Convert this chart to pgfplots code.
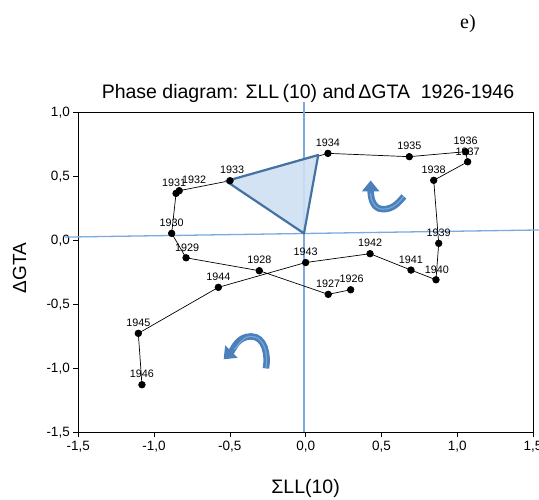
\documentclass[border=0pt]{standalone}
\usepackage{fontspec}
\setmainfont{Liberation Sans}
\newfontfamily\seriffont{Liberation Serif}
\usepackage{pgfplots}
\pgfplotsset{compat=1.18}
\usepackage{pgfplotstable}
\usetikzlibrary{arrows.meta}

\definecolor{refline}{RGB}{122,170,222}
\definecolor{triedge}{RGB}{68,114,162}
\definecolor{trifill}{RGB}{206,224,242}
\definecolor{arrowblue}{RGB}{76,128,186}
\definecolor{arrowlight}{RGB}{120,165,215}

\pgfplotstableread{
x y year dx
0.297 -0.385 1926 1
0.149 -0.421 1927 0
-0.306 -0.236 1928 0
-0.789 -0.135 1929 1
-0.884 0.056 1930 0
-0.855 0.369 1931 -2
-0.834 0.390 1932 15
-0.499 0.468 1933 2
0.147 0.682 1934 0
0.684 0.656 1935 0
1.056 0.695 1936 0
1.069 0.616 1937 0
0.845 0.471 1938 0
0.878 -0.022 1939 0
0.860 -0.307 1940 1
0.695 -0.231 1941 0
0.425 -0.103 1942 0
0.000 -0.172 1943 0
-0.576 -0.366 1944 0
-1.104 -0.726 1945 0
-1.080 -1.128 1946 0
}\phasedata

\begin{document}
\begin{tikzpicture}
\useasboundingbox (0pt,0pt) rectangle (539pt,499pt);
\begin{axis}[
  at={(78.3pt,66.7pt)}, anchor=south west,
  scale only axis, width=454.7pt, height=319.6pt,
  xmin=-1.5, xmax=1.5, ymin=-1.5, ymax=1,
  xtick={-1.5,-1,-0.5,0,0.5,1,1.5},
  ytick={-1.5,-1,-0.5,0,0.5,1},
  tick pos=left, tick align=outside, major tick length=5pt,
  every tick/.style={black, line width=0.6pt},
  axis line style={black, line width=0.7pt},
  /pgf/number format/.cd, fixed, fixed zerofill, precision=1, use comma, assume math mode=true,
  /pgfplots/.cd,
  tick label style={font=\fontsize{13.5}{15}\selectfont},
  clip=false,
]
\draw[refline, line width=1.3pt] (axis cs:-1.588,0.027) -- (axis cs:1.56,0.083);
\draw[refline, line width=1.3pt] (axis cs:-0.011,-1.5) -- (axis cs:-0.011,1.083);

\addplot[black, line width=0.7pt, mark=*, mark size=3.3pt, mark options={fill=black, solid},
  nodes near coords, point meta=explicit symbolic,
  visualization depends on={\thisrow{dx} \as \dx},
  every node near coord/.style={anchor=center, xshift=\dx pt, yshift=10.5pt,
     font=\fontsize{10.8}{12}\selectfont, text=black, inner sep=0pt}]
  table[x=x, y=y, meta=year] {\phasedata};

\filldraw[fill=trifill, fill opacity=0.9, draw=triedge, line width=2.2pt, line join=round]
  (axis cs:-0.525,0.465) -- (axis cs:0.083,0.669) -- (axis cs:-0.011,0.056) -- cycle;

\draw[arrowblue, line width=6.5pt, -{Triangle[width=17pt,length=11pt]}]
  (axis cs:0.648,0.345) to[out=230,in=0] (axis cs:0.51,0.245) to[out=180,in=-90] (axis cs:0.429,0.470);
\draw[arrowlight, line width=1.2pt]
  (axis cs:0.648,0.345) to[out=230,in=0] (axis cs:0.51,0.245) to[out=180,in=-90] (axis cs:0.429,0.37);
\draw[arrowblue, line width=6.5pt, -{Triangle[width=17pt,length=11pt]}]
  (axis cs:-0.262,-1.0) to[out=80,in=0] (axis cs:-0.36,-0.75) to[out=180,in=45] (axis cs:-0.541,-0.929);
\draw[arrowlight, line width=1.2pt]
  (axis cs:-0.262,-1.0) to[out=80,in=0] (axis cs:-0.36,-0.75) to[out=180,in=45] (axis cs:-0.47,-0.85);
\end{axis}

\node[anchor=base, font=\fontsize{19.5}{22}\selectfont, inner sep=0pt] at (308pt,400.7pt)
  {Phase diagram: ΣLL\,(10) and\,ΔGTA\ \ 1926-1946};
\node[font=\fontsize{19.5}{22}\selectfont, inner sep=0pt] at (305.6pt,11pt) {ΣLL(10)};
\node[rotate=90, font=\fontsize{19}{22}\selectfont, inner sep=0pt] at (19.5pt,231pt) {ΔGTA};
\node[font=\seriffont\fontsize{20}{22}\selectfont, inner sep=0pt] at (468pt,475pt) {e)};
\end{tikzpicture}
\end{document}
